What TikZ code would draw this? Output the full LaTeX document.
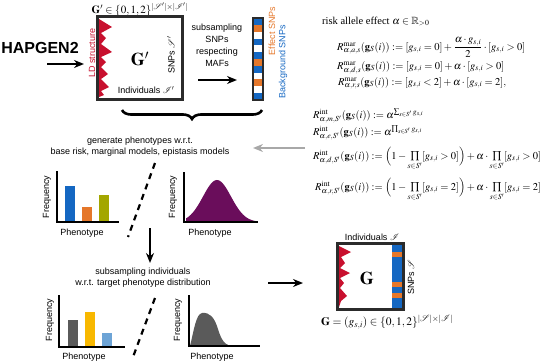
\documentclass[tikz,border=0pt]{standalone}
\usepackage{amsmath,amssymb}
\usepackage{mathptmx}
\usepackage{mathrsfs}
\usepackage{fontspec}
\setmainfont{Liberation Serif}
\setsansfont{Liberation Sans}
\usepackage{tikz}
\usetikzlibrary{arrows.meta,decorations.pathreplacing}
\definecolor{ink}{HTML}{2B2B2B}
\definecolor{ldred}{HTML}{C8102E}
\definecolor{snpblue}{HTML}{1467C2}
\definecolor{snporange}{HTML}{E5772A}
\definecolor{barolive}{HTML}{A3A600}
\definecolor{plum}{HTML}{6A0D5B}
\definecolor{shadegray}{HTML}{5A5A5A}
\definecolor{barsun}{HTML}{F8B800}
\definecolor{barsky}{HTML}{6DA4D6}
\definecolor{arrowgray}{HTML}{A8A8A8}

\begin{document}
\begin{tikzpicture}[x=1pt,y=-1pt,>=Stealth,
  every node/.style={font=\sffamily\fontsize{9}{11}\selectfont,inner sep=0pt},
  matbox/.style={draw=ink,line width=1.8pt,fill=white},
  axis/.style={draw=black,line width=1.4pt},
  bigarrow/.style={line width=1.6pt,-{Stealth[length=10pt,width=8pt]}},
  formula/.style={anchor=base west,font=\fontsize{10.5}{12.5}\selectfont},
  cut/.style={line width=2.2pt,dash pattern=on 6pt off 5pt}]
  \useasboundingbox (0,0) rectangle (550,362);
  % source data
  \node[font=\sffamily\bfseries\fontsize{16}{18}\selectfont] (hapgen) at (40,48) {HAPGEN2};
  \coordinate (hapstart) at (47,64);
  \coordinate (hapend) at (84,64);
  \draw[bigarrow] (hapstart) -- (hapend);
  \node[font=\fontsize{11}{13}\selectfont,anchor=base] (gptitle) at (140,13) {$\mathbf{G}'\in\{0,1,2\}^{|\mathscr{S}'|\times|\mathscr{I}'|}$};
  \node[matbox,minimum width=84pt,minimum height=82pt] (gpbox) at (140,58) {};
  \fill[ldred] (99,19) -- (112,27) -- (101,33) -- (106,38) -- (101,44) -- (112,52) -- (101,57)
    -- (106,62) -- (101,67) -- (108,74) -- (101,79) -- (109,87) -- (101,91) -- (104,95) -- (99,97) -- cycle;
  \draw[draw=ink,line width=1.8pt] (gpbox.north west) rectangle (gpbox.south east);
  \node[rotate=90,text=ldred] (ldlabel) at (92,53) {LD structure};
  \node[font=\bfseries\fontsize{18}{20}\selectfont] (gpname) at (140,59) {$\mathbf{G}'$};
  \node[rotate=90] (gpsnps) at (171,55) {SNPs $\mathscr{S}'$};
  \node (gpind) at (146,90) {Individuals $\mathscr{I}'$};
  % SNP subsampling
  \node[align=center,font=\sffamily\fontsize{9}{12}\selectfont] (subsnp) at (217,45) {subsampling\\SNPs\\respecting\\MAFs};
  \coordinate (snpstart) at (198,80);
  \coordinate (snpend) at (237,80);
  \draw[bigarrow] (snpstart) -- (snpend);
  \foreach \c [count=\i from 0] in {snpblue,snporange,white,snpblue,white,snpblue,snporange,snpblue,white,snporange,white,snpblue}
    \fill[\c] (253,{18+\i*6.833}) rectangle ++(10,6.833);
  \node[draw=ink,line width=1.5pt,minimum width=10pt,minimum height=82pt] (snpcol) at (258,59) {};
  \node[rotate=90,text=snporange] (effect) at (272,31) {Effect SNPs};
  \node[rotate=90,text=snpblue] (background) at (283,62) {Background SNPs};
  \coordinate (braceright) at (262,110);
  \coordinate (braceleft) at (122,110);
  \draw[decorate,decoration={brace,amplitude=9pt},line width=2.6pt] (braceright) -- (braceleft);
  % risk models
  \node[formula] (risk) at (322,24) {risk allele effect $\alpha\in\mathbb{R}_{>0}$};
  \node[formula] (mara) at (337,50) {$R^{\mathrm{mar}}_{\alpha,a,s}(\mathbf{g}_S(i)) := [g_{s,i}=0]+\dfrac{\alpha\cdot g_{s,i}}{2}\cdot[g_{s,i}>0]$};
  \node[formula] (mard) at (337,69) {$R^{\mathrm{mar}}_{\alpha,d,s}(\mathbf{g}_S(i)) := [g_{s,i}=0]+\alpha\cdot[g_{s,i}>0]$};
  \node[formula] (marr) at (338,85) {$R^{\mathrm{mar}}_{\alpha,r,s}(\mathbf{g}_S(i)) := [g_{s,i}<2]+\alpha\cdot[g_{s,i}=2],$};
  \node[formula] (intm) at (313,118) {$R^{\mathrm{int}}_{\alpha,m,S'}(\mathbf{g}_S(i)) := \alpha^{\sum_{s\in S'}g_{s,i}}$};
  \node[formula] (inte) at (313,135) {$R^{\mathrm{int}}_{\alpha,e,S'}(\mathbf{g}_S(i)) := \alpha^{\prod_{s\in S'}g_{s,i}}$};
  \node[formula] (intd) at (313,159) {$R^{\mathrm{int}}_{\alpha,d,S'}(\mathbf{g}_S(i)) := \Bigl(1-\prod\limits_{s\in S'}[g_{s,i}>0]\Bigr)+\alpha\cdot\prod\limits_{s\in S'}[g_{s,i}>0]$};
  \node[formula] (intr) at (315,190) {$R^{\mathrm{int}}_{\alpha,r,S'}(\mathbf{g}_S(i)) := \Bigl(1-\prod\limits_{s\in S'}[g_{s,i}=2]\Bigr)+\alpha\cdot\prod\limits_{s\in S'}[g_{s,i}=2]$};
  \coordinate (modelstart) at (305,148);
  \coordinate (modelend) at (253,148);
  \draw[line width=1.6pt,draw=arrowgray,-{Stealth[length=10pt,width=8pt]}] (modelstart) -- (modelend);
  % phenotype generation
  \node[align=center] (generate) at (140,146.5) {generate phenotypes w.r.t.\\base risk, marginal models, epistasis models};
  \fill[snpblue] (65,186) rectangle (75,222);
  \fill[snporange] (82,207) rectangle (92,222);
  \fill[barolive] (99,195) rectangle (109,222);
  \draw[axis] (57,171) -- (57,222) -- (119,222);
  \node[rotate=90] (freqa) at (47,197) {Frequency};
  \node (phena) at (82,233) {Phenotype};
  \draw[cut] (155,163) -- (128,237);
  \fill[plum] (186,222) -- plot[domain=186:256,samples=60] (\x,{222-42*exp(-((\x-217)^2)/392)}) -- (256,222) -- cycle;
  \draw[axis] (184,172) -- (184,222) -- (258,222);
  \node[rotate=90] (freqb) at (173,197) {Frequency};
  \node (phenb) at (210,233) {Phenotype};
  \coordinate (downstart) at (150,228);
  \coordinate (downend) at (150,263);
  \draw[bigarrow] (downstart) -- (downend);
  % individual subsampling
  \node[align=center] (subind) at (143,278) {subsampling individuals\\w.r.t. target phenotype distribution};
  \fill[shadegray] (68,320) rectangle (78,347);
  \fill[barsun] (85,312) rectangle (95,347);
  \fill[barsky] (102,333) rectangle (112,347);
  \draw[axis] (59,295) -- (59,347) -- (125,347);
  \node[rotate=90] (freqc) at (50,320) {Frequency};
  \node (phenc) at (84,357) {Phenotype};
  \draw[cut] (155,298) -- (133,357);
  \fill[shadegray] (190,346) .. controls (194,330) and (196,314) .. (202,313)
    .. controls (210,312) and (214,318) .. (217,326) .. controls (220,336) and (223,344) .. (230,346) -- cycle;
  \draw[axis] (189,295) -- (189,346) -- (260,346);
  \node[rotate=90] (freqd) at (178,320) {Frequency};
  \node (phend) at (212,357) {Phenotype};
  \coordinate (finalstart) at (268,283);
  \coordinate (finalend) at (303,283);
  \draw[bigarrow] (finalstart) -- (finalend);
  % final genotype matrix
  \node[matbox,minimum width=65pt,minimum height=65pt] (gbox) at (370.5,276.5) {};
  \fill[snpblue] (392,245) rectangle (402,308);
  \foreach \y in {252,282,293}
    \fill[snporange] (392,\y) rectangle ++(10,5);
  \fill[ldred] (339,246) -- (351,252) -- (341,257) -- (345,263) -- (340,268) -- (350,273) -- (340,278)
    -- (344,283) -- (340,288) -- (347,296) -- (341,301) -- (339,307) -- cycle;
  \draw[draw=ink,line width=1.8pt] (gbox.north west) rectangle (gbox.south east);
  \node[font=\bfseries\fontsize{18}{20}\selectfont] (gname) at (367,278) {$\mathbf{G}$};
  \node (gind) at (372,237) {Individuals $\mathscr{I}$};
  \node[rotate=90] (gsnps) at (411,277) {SNPs $\mathscr{S}$};
  \node[font=\fontsize{11.5}{13}\selectfont] (gformula) at (387,322) {$\mathbf{G}=(g_{s,i})\in\{0,1,2\}^{|\mathscr{S}|\times|\mathscr{I}|}$};
\end{tikzpicture}
\end{document}
